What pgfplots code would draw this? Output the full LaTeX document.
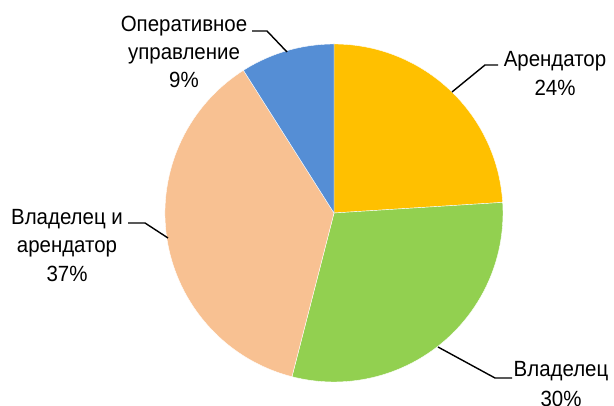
\documentclass[border=0pt]{standalone}
\usepackage{pgfplots}
\usepackage{pgfplotstable}
\pgfplotsset{compat=1.18}
\usepackage{fontspec}
\setmainfont{Liberation Sans}[FakeStretch=0.93]

\definecolor{cArend}{HTML}{FFC000}
\definecolor{cVlad}{HTML}{92D050}
\definecolor{cVlAr}{HTML}{F8C192}
\definecolor{cOper}{HTML}{558ED5}

% shares in %, clockwise from 12 o'clock
\pgfplotstableread{
value color
24 cArend
30 cVlad
37 cVlAr
9  cOper
}\piedata

\begin{document}
\begin{tikzpicture}
\begin{axis}[
    hide axis,
    x=1pt, y=1pt,
    xmin=0, xmax=614,
    ymin=0, ymax=406,
    clip=false,
]
\pgfplotstablegetrowsof{\piedata}
\pgfmathtruncatemacro\nrows{\pgfplotsretval-1}
\def\angA{90}
\pgfplotsforeachungrouped \i in {0,...,\nrows}{%
  \pgfplotstablegetelem{\i}{value}\of\piedata \let\v\pgfplotsretval
  \pgfplotstablegetelem{\i}{color}\of\piedata \let\c\pgfplotsretval
  \pgfmathsetmacro\angB{\angA-3.6*\v}%
  \edef\temp{\noexpand\fill[fill=\c, draw=white, line width=0.4pt]
    (axis cs:334,193) -- ++(\angA:169pt)
    arc[start angle=\angA, end angle=\angB, radius=169pt] -- cycle;}%
  \temp
  \let\angA\angB
}

% leader lines
\draw[black, line width=1.4pt] (axis cs:287,354) -- (axis cs:267,375) -- (axis cs:252,375);
\draw[black, line width=1.4pt] (axis cs:452,314) -- (axis cs:485,341) -- (axis cs:498,341);
\draw[black, line width=1.4pt] (axis cs:168,168) -- (axis cs:145,183) -- (axis cs:128,183);
\draw[black, line width=1.4pt] (axis cs:438,59) -- (axis cs:495,28) -- (axis cs:512,28);

% labels
\tikzset{lbl/.style={anchor=base, inner sep=0pt, font=\fontsize{22}{28}\selectfont}}
\node[lbl] at (axis cs:184,374) {Оперативное};
\node[lbl] at (axis cs:184,346) {управление};
\node[lbl] at (axis cs:184,318) {9\%};
\node[lbl] at (axis cs:555,339) {Арендатор};
\node[lbl] at (axis cs:555,310) {24\%};
\node[lbl] at (axis cs:67,181) {Владелец и};
\node[lbl] at (axis cs:67,153) {арендатор};
\node[lbl] at (axis cs:67,124) {37\%};
\node[lbl] at (axis cs:561,29) {Владелец};
\node[lbl] at (axis cs:561,-1) {30\%};
\end{axis}
\pgfresetboundingbox
\useasboundingbox (0,0) rectangle (614pt,406pt);
\end{tikzpicture}
\end{document}
